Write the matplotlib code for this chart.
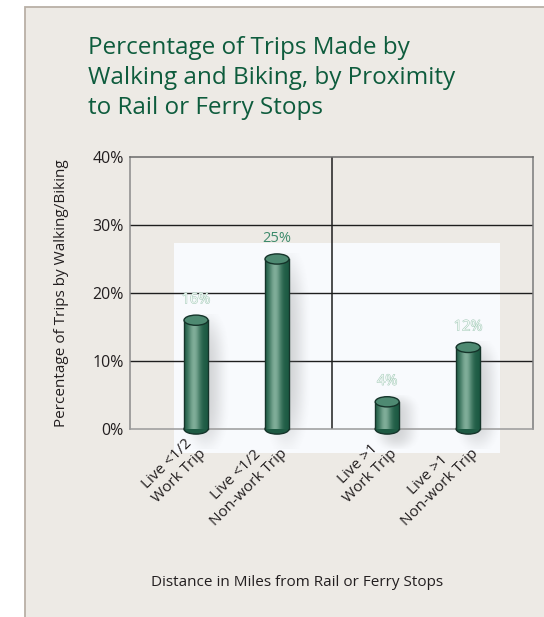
import numpy as np
import matplotlib.pyplot as plt
from matplotlib.patches import Rectangle, Ellipse
import matplotlib.patheffects as pe

plt.rcParams['font.family'] = ['Open Sans', 'DejaVu Sans']

categories = ['Live <1/2\nWork Trip', 'Live <1/2\nNon-work Trip',
              'Live >1\nWork Trip', 'Live >1\nNon-work Trip']
values = [16, 25, 4, 12]
value_labels = ['16%', '25%', '4%', '12%']
yticks = [0, 10, 20, 30, 40]
ytick_labels = ['0%', '10%', '20%', '30%', '40%']
title = 'Percentage of Trips Made by\nWalking and Biking, by Proximity\nto Rail or Ferry Stops'

# two groups of bars with a wider gap between them
xpos = [0, 1, 2.36, 3.36]
w = 0.296        # bar width in x units
eh = 1.5         # ellipse height in y units

fig = plt.figure(figsize=(5.44, 6.17), dpi=100)
fig.patch.set_facecolor('white')
fig.patches.append(Rectangle((25/544, -0.1), 1.0, 1.1 - 7/617, transform=fig.transFigure,
                             facecolor='#EDEAE5', edgecolor='#B9B0A6', lw=1.3, zorder=-10))

ax = fig.add_axes([130/544, 1 - 429/617, 403/544, 272/617])
ax.set_facecolor('none')

# light panel behind the bars
ax.add_patch(Rectangle((-0.272, -3.5), 4.025, 30.85, facecolor='#F8FAFD',
                       edgecolor='none', zorder=1, clip_on=False))

for y in [10, 20, 30]:
    ax.axhline(y, color='#1E1E1E', lw=1.0, zorder=2)
ax.axvline(1.68, color='#1E1E1E', lw=1.1, zorder=2)

# shading across a cylinder
u = np.linspace(0, 1, 80)
t = np.exp(-((u - 0.42) / 0.26) ** 2)
dark = np.array([0.11, 0.35, 0.26])
light = np.array([0.50, 0.68, 0.60])
grad = (dark[None, :] + (light - dark)[None, :] * t[:, None])[None, :, :]

# soft drop shadow
sx = np.linspace(-1, 1, 60)
sy = np.linspace(-1, 1, 60)
SX, SY = np.meshgrid(sx, sy)
sh = np.clip(1 - (SX ** 2 + 0.6 * SY ** 4), 0, 1) ** 2
shadow = np.zeros((60, 60, 4))
shadow[..., :3] = 0.45
shadow[..., 3] = 0.28 * sh

for x, v, lab in zip(xpos, values, value_labels):
    ax.imshow(shadow, extent=(x - w/2 - 0.05, x + w/2 + 0.28, -3.0, v + 0.8),
              aspect='auto', zorder=2.5, clip_on=False, interpolation='bilinear')
    ax.add_patch(Ellipse((x, 0), w, eh, facecolor='#1E5A43', edgecolor='#15342A',
                         lw=1.0, zorder=3, clip_on=False))
    ax.imshow(grad, extent=(x - w/2, x + w/2, 0, v), aspect='auto', zorder=4,
              clip_on=False, interpolation='bilinear')
    ax.plot([x - w/2, x - w/2], [0, v], color='#15342A', lw=1.0, zorder=4.5, clip_on=False)
    ax.plot([x + w/2, x + w/2], [0, v], color='#15342A', lw=1.0, zorder=4.5, clip_on=False)
    ax.add_patch(Ellipse((x, v), w, eh, facecolor='#4E8A72', edgecolor='#15342A',
                         lw=1.0, zorder=5, clip_on=False))
    if v > 20:
        ax.text(x, v + 3, lab, ha='center', va='center', fontsize=10.5,
                color='#3C8A6B', zorder=6)
    else:
        ax.text(x, v + 3, lab, ha='center', va='center', fontsize=10.5,
                color='#F3F9F6', zorder=6,
                path_effects=[pe.withStroke(linewidth=0.7, foreground='#A3CAB8')])

for x, cat in zip(xpos, categories):
    ax.text(x - 0.12, -0.7, cat, rotation=45, ha='right', va='top',
            rotation_mode='anchor', multialignment='center',
            fontsize=11, color='#231F20', linespacing=1.2)

ax.set_xlim(-0.815, 4.16)
ax.set_ylim(0, 40)
ax.set_yticks(yticks)
ax.set_yticklabels(ytick_labels)
ax.set_xticks([])
ax.tick_params(axis='y', length=0, labelsize=11.5, labelcolor='#231F20', pad=4.5)
ax.spines['left'].set_color('#8A8A8A')
ax.spines['bottom'].set_color('#9A9A9A')
ax.spines['top'].set_color('#6A6A6A')
ax.spines['right'].set_color('#7A7A7A')
for s in ax.spines.values():
    s.set_linewidth(1.1)

fig.text(88/544, 1 - 36/617, title, va='top', ha='left', fontsize=17.5,
         color='#0E5C3D', linespacing=1.32)
fig.text(62/544, 1 - 293/617, 'Percentage of Trips by Walking/Biking', rotation=90,
         ha='center', va='center', fontsize=11, color='#231F20')
fig.text(297/544, 1 - 582/617, 'Distance in Miles from Rail or Ferry Stops',
         ha='center', va='center', fontsize=11, color='#231F20')

fig.savefig('out.png', dpi=100)
